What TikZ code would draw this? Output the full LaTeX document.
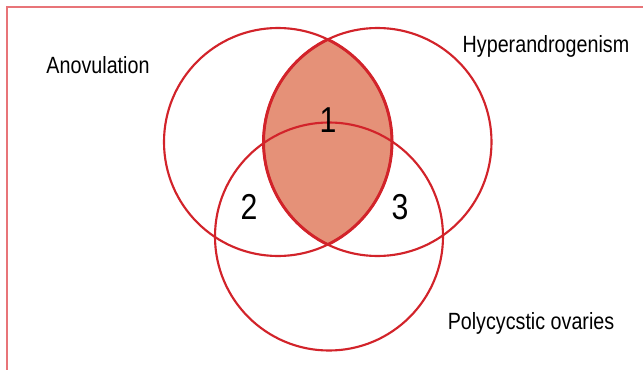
\documentclass[tikz,border=0pt]{standalone}
\usepackage{fontspec}
\setmainfont{Liberation Sans}[FakeStretch=0.84]
\definecolor{vennred}{RGB}{210,35,42}
\definecolor{lensfill}{RGB}{229,145,120}
\definecolor{framered}{RGB}{232,116,120}
\tikzset{
  ring/.style={circle,draw=vennred,line width=1.6pt,minimum size=171pt,inner sep=0pt},
  setlabel/.style={font=\fontsize{17.6}{17.6}\selectfont,inner sep=0pt},
  zonelabel/.style={font=\fontsize{27}{27}\selectfont,inner sep=0pt}
}
\begin{document}
\begin{tikzpicture}[x=0.75pt,y=0.75pt]
    \useasboundingbox (0,0) rectangle (643,369);
    \clip (0,0) rectangle (643,369);

    % cornice
    \draw[framered,line width=1.5pt] (7,-10) -- (7,362) -- (660,362);

    % centri
    \coordinate (cA) at (278,227);
    \coordinate (cH) at (377.5,227);
    \coordinate (cP) at (329,132.5);

    % lente
    \begin{scope}
        \clip (cA) circle (114);
        \fill[lensfill] (cH) circle (114);
        \draw[vennred,line width=2.2pt] (cH) circle (114);
    \end{scope}
    \begin{scope}
        \clip (cH) circle (114);
        \draw[vennred,line width=2.2pt] (cA) circle (114);
    \end{scope}

    % cerchi
    \node[ring] (anov) at (cA) {};
    \node[ring] (hyper) at (cH) {};
    \node[ring] (poly) at (cP) {};

    % etichette
    \node[setlabel] (lanov) at (98,304) {Anovulation};
    \node[setlabel] (lhyper) at (546,323) {Hyperandrogenism};
    \node[setlabel] (lpoly) at (531,46) {Polycycstic ovaries};

    % zone
    \node[zonelabel] (z1) at (328,249) {1};
    \node[zonelabel] (z2) at (249,162) {2};
    \node[zonelabel] (z3) at (400,162) {3};
\end{tikzpicture}
\end{document}
